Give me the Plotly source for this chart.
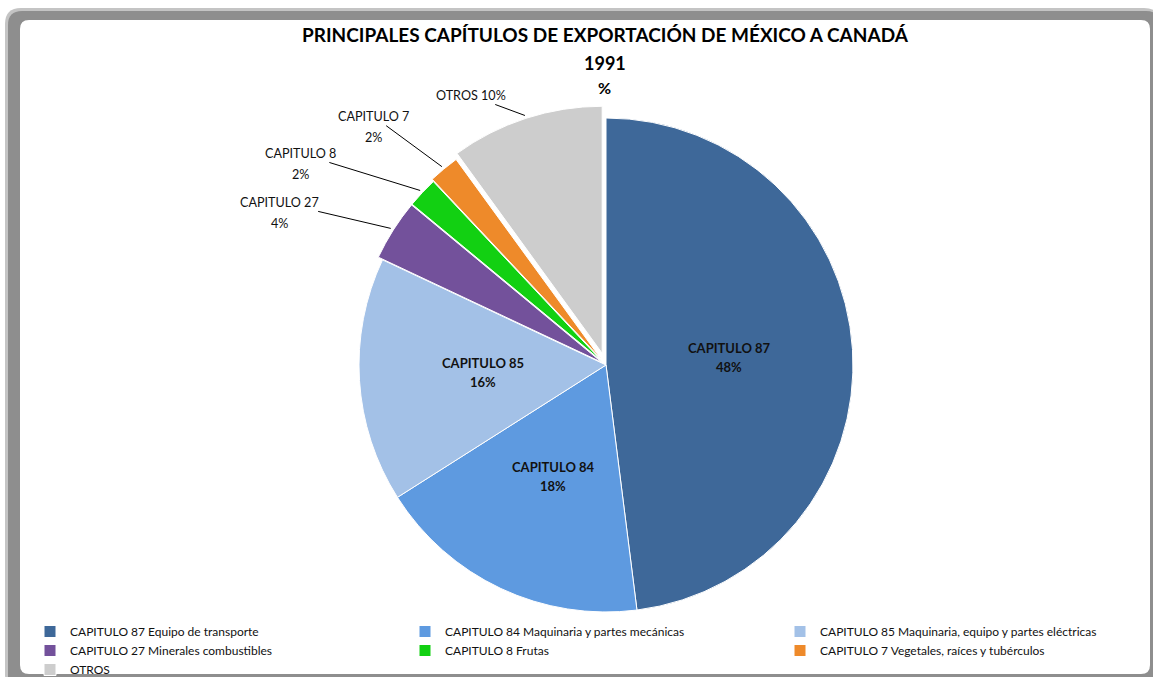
import math
import plotly.graph_objects as go

# ---------------- data ----------------
short_labels = ["CAPITULO 87", "CAPITULO 84", "CAPITULO 85", "CAPITULO 27",
                "CAPITULO 8", "CAPITULO 7", "OTROS"]
legend_labels = ["CAPITULO 87 Equipo de transporte",
                 "CAPITULO 84 Maquinaria y partes mecánicas",
                 "CAPITULO 85 Maquinaria, equipo y partes eléctricas",
                 "CAPITULO 27 Minerales combustibles",
                 "CAPITULO 8 Frutas",
                 "CAPITULO 7 Vegetales, raíces y tubérculos",
                 "OTROS"]
values = [48, 18, 16, 4, 2, 2, 10]
colors = ["#3E6899", "#5E9AE0", "#A3C1E7", "#73519B", "#12D012", "#EE8A2A", "#CDCDCD"]
pulls = [0, 0, 0, 0.02, 0.02, 0.03, 0.05]
inside = [True, True, True, False, False, False, False]

title_l1 = "PRINCIPALES CAPÍTULOS DE EXPORTACIÓN DE MÉXICO A CANADÁ"
title_l2 = "1991"
title_l3 = "%"

# ---------------- geometry (pixels) ----------------
W, H = 1153, 677
FONT = "Lato"


def px(x):
    return x / W


def py(y):
    return 1 - y / H


CX, CY, R = 606, 365, 247
maxpull = max(pulls)
half = R * (1 + maxpull)

fig = go.Figure()
fig.add_trace(go.Pie(
    labels=legend_labels,
    values=values,
    sort=False,
    direction="clockwise",
    rotation=0,
    pull=pulls,
    marker=dict(colors=colors, line=dict(color="#ffffff", width=1)),
    textinfo="none",
    hoverinfo="label+percent",
    domain=dict(x=[px(CX - half), px(CX + half)], y=[py(CY + half), py(CY - half)]),
))

annotations = []
total = sum(values)
cum = 0
# first-line text centre relative to leader tip (pixels)
out_offsets = {3: (-111, -26), 4: (-120, -37), 5: (-68, -50), 6: (-54, -20)}
IN_GAP = 19   # line spacing inside labels
OUT_GAP = 21  # line spacing outside labels


def ann(x, y, text, size, bold=False, **kw):
    t = f"<b>{text}</b>" if bold else text
    d = dict(x=px(x), y=py(y), xref="paper", yref="paper", showarrow=False,
             xanchor="center", yanchor="middle", text=t, align="center",
             font=dict(family=FONT, size=size, color="#111111"))
    d.update(kw)
    return d


for i, v in enumerate(values):
    mid = (cum + v / 2) / total * 2 * math.pi
    cum += v
    pct = round(v / total * 100)
    if inside[i]:
        r = R * 0.5
        x = CX + r * math.sin(mid)
        y = CY - r * math.cos(mid)
        annotations.append(ann(x, y - IN_GAP / 2, short_labels[i], 13, bold=True))
        annotations.append(ann(x, y + IN_GAP / 2, f"{pct}%", 13, bold=True))
    else:
        r = R * (1 + pulls[i]) + 3
        tx = CX + r * math.sin(mid)
        ty = CY - r * math.cos(mid)
        ax, ay = out_offsets[i]
        one_line = short_labels[i] == "OTROS"
        first = f"{short_labels[i]} {pct}%" if one_line else short_labels[i]
        annotations.append(ann(tx, ty, first, 12.6, showarrow=True, ax=ax, ay=ay,
                               arrowhead=0, arrowwidth=1, arrowcolor="#000000",
                               standoff=0, startstandoff=0))
        if not one_line:
            annotations.append(ann(tx + ax, ty + ay + OUT_GAP, f"{pct}%", 12.6))

annotations += [
    dict(x=px(605), y=py(35), xref="paper", yref="paper", showarrow=False,
         xanchor="center", yanchor="middle",
         text=f"<b>{title_l1}</b>", font=dict(family=FONT, size=19, color="#000000")),
    dict(x=px(605), y=py(63), xref="paper", yref="paper", showarrow=False,
         xanchor="center", yanchor="middle",
         text=f"<b>{title_l2}</b>", font=dict(family=FONT, size=18, color="#000000")),
    dict(x=px(604), y=py(88), xref="paper", yref="paper", showarrow=False,
         xanchor="center", yanchor="middle",
         text=f"<b>{title_l3}</b>", font=dict(family=FONT, size=16, color="#000000")),
]


def rrect(x0, y0, x1, y1, rad):
    rx = rad / W
    ry = rad / H
    X0, X1 = px(x0), px(x1)
    Y0, Y1 = py(y0), py(y1)  # Y0 top (bigger), Y1 bottom
    return (f"M{X0 + rx},{Y0} L{X1 - rx},{Y0} Q{X1},{Y0} {X1},{Y0 - ry} "
            f"L{X1},{Y1 + ry} Q{X1},{Y1} {X1 - rx},{Y1} L{X0 + rx},{Y1} "
            f"Q{X0},{Y1} {X0},{Y1 + ry} L{X0},{Y0 - ry} Q{X0},{Y0} {X0 + rx},{Y0} Z")


shapes = [
    dict(type="path", xref="paper", yref="paper", layer="below",
         path=rrect(5, 8, 1160, 690, 16), fillcolor="#c4c4c4", line=dict(width=0)),
    dict(type="path", xref="paper", yref="paper", layer="below",
         path=rrect(8, 11, 1160, 690, 14), fillcolor="#8e8e8e", line=dict(width=0)),
    dict(type="path", xref="paper", yref="paper", layer="below",
         path=rrect(20, 20, 1150, 674, 9), fillcolor="#ffffff", line=dict(width=0)),
]

fig.update_layout(
    width=W, height=H,
    margin=dict(l=0, r=0, t=0, b=0, autoexpand=False),
    paper_bgcolor="#ffffff",
    plot_bgcolor="#ffffff",
    font=dict(family=FONT, size=12, color="#111111"),
    annotations=annotations,
    shapes=shapes,
    showlegend=True,
    legend=dict(orientation="h", x=px(30), y=py(617), xanchor="left", yanchor="top",
                entrywidth=330, entrywidthmode="pixels",
                font=dict(family=FONT, size=12, color="#111111"),
                bgcolor="rgba(0,0,0,0)", tracegroupgap=0, itemwidth=30),
)

fig.write_html("out.html", config={"displayModeBar": False},
               post_script="document.body.style.margin='0';")
